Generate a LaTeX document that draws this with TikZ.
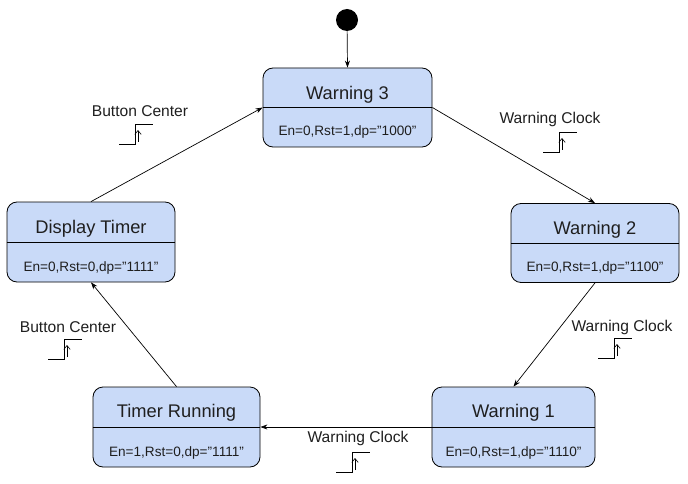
\documentclass[tikz,border=0pt]{standalone}
\usepackage{fontspec}
\setmainfont{Liberation Sans}
\usetikzlibrary{arrows.meta}
\definecolor{stfill}{HTML}{C9DAF8}
\tikzset{
  statebox/.style={draw=black, line width=0.8pt, fill=stfill, rounded corners=10pt, inner sep=0pt},
  sttitle/.style={inner sep=0pt, font=\fontsize{18.3}{20}\selectfont, text=black!88},
  stbody/.style={inner sep=0pt, font=\fontsize{13.6}{15}\selectfont, text=black!88},
  edgelbl/.style={inner sep=0pt, font=\fontsize{15.6}{17}\selectfont, text=black!88},
  trans/.style={draw=black, line width=0.7pt, -{Stealth[length=7pt,width=5pt]}},
  iconline/.style={draw=black, line width=0.8pt},
  risingedge/.pic={
    \draw[iconline] (0,0) -- (16,0) -- (16,-20) -- (34,-20);
    \draw[line width=0.6pt, -{Straight Barb[length=4pt,width=6.5pt]}] (19,-2) -- (19,-14);
  }
}
\begin{document}
\begin{tikzpicture}[x=1pt,y=-1pt]
\path[fill=white] (0,0) rectangle (688,484);
\useasboundingbox (0,0) rectangle (688,484);

% start
\node[circle, fill=black, minimum size=22pt, inner sep=0pt] (start) at (347,20) {};

% states
\node[statebox, minimum width=169pt, minimum height=79pt] (w3) at (347.5,107.5) {};
\node[statebox, minimum width=168pt, minimum height=79pt] (w2) at (595,243) {};
\node[statebox, minimum width=168pt, minimum height=80pt] (dt) at (91,242) {};
\node[statebox, minimum width=163pt, minimum height=80pt] (w1) at (513.5,427) {};
\node[statebox, minimum width=167pt, minimum height=80pt] (tr) at (176.5,427) {};

\foreach \n in {w3,w2,dt,w1,tr} {\draw[line width=0.8pt] (\n.west) -- (\n.east);}

\node[sttitle] (w3t) at (347.5,95) {Warning 3};
\node[stbody] (w3b) at (347.5,131.5) {En=0,Rst=1,dp="1000"};
\node[sttitle] (w2t) at (595,230) {Warning 2};
\node[stbody] (w2b) at (595,267.5) {En=0,Rst=1,dp="1100"};
\node[sttitle] (dtt) at (91,229) {Display Timer};
\node[stbody] (dtb) at (91,267.5) {En=0,Rst=0,dp="1111"};
\node[sttitle] (w1t) at (513.5,413) {Warning 1};
\node[stbody] (w1b) at (513.5,452.5) {En=0,Rst=1,dp="1110"};
\node[sttitle] (trt) at (176.5,413) {Timer Running};
\node[stbody] (trb) at (176.5,452.5) {En=1,Rst=0,dp="1111"};

% transitions
\draw[trans] (start) -- (w3.north);
\draw[trans] (dt.north) -- (w3.west);
\draw[trans] (w3.east) -- (w2.north);
\draw[trans] (w2.south) -- (w1.north);
\draw[trans] (w1.west) -- (tr.east);
\draw[trans] (tr.north) -- (dt.south);

% labels
\node[edgelbl] (l1) at (140,111) {Button Center};
\node[edgelbl] (l2) at (550,119) {Warning Clock};
\node[edgelbl] (l3) at (622,327) {Warning Clock};
\node[edgelbl] (l4) at (68,327) {Button Center};
\node[edgelbl] (l5) at (358,438) {Warning Clock};

\pic at (119,144) {risingedge};
\pic at (543,152) {risingedge};
\pic at (598,358) {risingedge};
\pic at (48,359) {risingedge};
\pic at (336,472) {risingedge};
\end{tikzpicture}
\end{document}
